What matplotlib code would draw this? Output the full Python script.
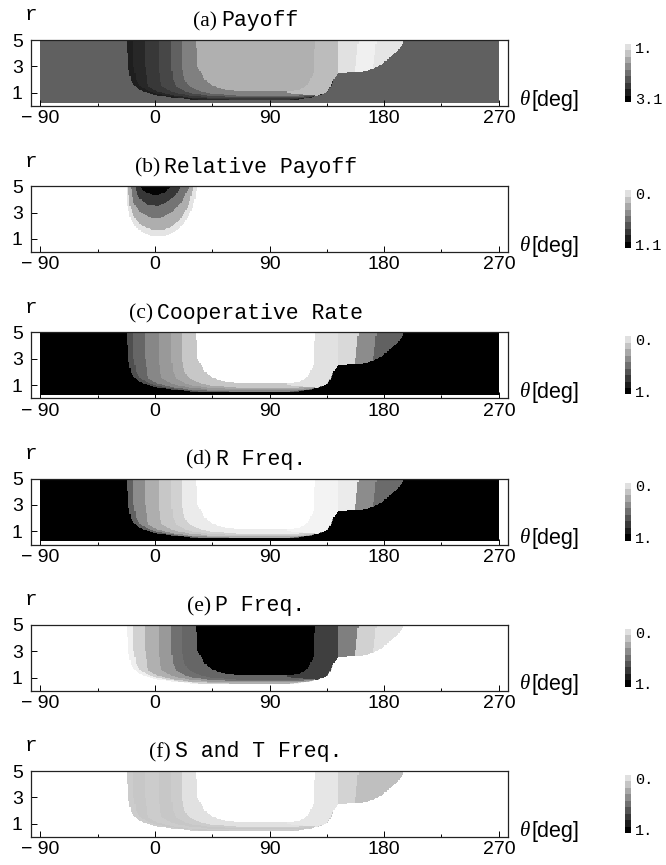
import numpy as np
import matplotlib
matplotlib.use("Agg")
import matplotlib.pyplot as plt
from matplotlib.path import Path
from matplotlib.colors import Normalize, ListedColormap
from matplotlib.cm import ScalarMappable
from matplotlib.offsetbox import TextArea, HPacker, AnnotationBbox

plt.rcParams["font.family"] = ["Liberation Sans", "DejaVu Sans"]

# grid of (theta [deg], r) cells
theta_edges = np.arange(-90, 271, 1.0)
r_edges = np.arange(0.25, 5.001, 0.05)

# nested region outlines in (theta, r); later layers are drawn over earlier ones
env_outer = [(-22, 5.1), (-21.5, 4), (-21, 3), (-19, 2), (-15.7, 1.5), (-9, 1.1), (-5, 1.0),
             (-2, 0.9), (3, 0.8), (11, 0.7), (27, 0.53), (45, 0.43), (100, 0.43), (110, 0.48),
             (122, 0.65), (132, 0.9), (136, 1.2), (138, 1.5), (140, 2.0), (144, 2.5), (157, 2.55),
             (165, 2.65), (171, 2.85), (177, 3.1), (182, 3.5), (187, 3.9), (191, 4.25),
             (194, 4.6), (196, 5.1)]
band_1 = [(-17, 5.1), (-16.5, 3), (-14.5, 2), (-11.8, 1.5), (-5, 1.15), (0, 1.0), (10, 0.8),
          (20, 0.65), (35, 0.52), (55, 0.47), (100, 0.47), (112, 0.54), (125, 0.72), (134, 1.0),
          (139, 1.6), (141, 2.2), (143, 5.1)]
band_2 = [(-8, 5.1), (-7.5, 3), (-6, 2), (-5.2, 1.5), (0, 1.2), (6.5, 1.0), (16, 0.8), (28, 0.65),
          (45, 0.55), (60, 0.52), (105, 0.52), (118, 0.62), (128, 0.8), (136, 1.1), (140, 2.0),
          (142, 5.1)]
band_3 = [(3, 5.1), (3, 3), (4, 2), (5.2, 1.5), (11, 1.2), (17, 1.0), (27, 0.83), (40, 0.68),
          (60, 0.58), (108, 0.58), (120, 0.68), (130, 0.85), (137, 1.2), (139, 2.0), (141, 5.1)]
band_4 = [(13, 5.1), (13, 3), (14.5, 2), (17, 1.5), (22, 1.2), (27.5, 1.0), (38, 0.85), (50, 0.75),
          (65, 0.68), (110, 0.68), (122, 0.76), (131, 0.95), (136, 1.3), (138, 2.0), (140, 5.1)]
band_5 = [(21, 5.1), (21, 3), (23, 2), (27.5, 1.5), (34, 1.2), (40.6, 1.0), (50, 0.9), (62, 0.83),
          (70, 0.81), (110, 0.81), (122, 0.88), (130, 1.05), (134, 1.4), (136, 2.0), (138, 5.1)]
core = [(32, 5.1), (33.5, 3), (35, 2.8), (39, 2.05), (44.5, 1.6), (51, 1.35), (59, 1.2), (66, 1.13),
        (105, 1.13), (111, 1.2), (115, 1.3), (119, 1.5), (122, 2.0), (124.5, 2.5), (125, 3.5),
        (126, 5.1)]
right_a = [(126, 5.1), (125, 3.5), (124.5, 2.5), (122, 2.0), (119, 1.5), (115, 1.3), (111, 1.2),
           (105, 1.13), (100, 1.1), (108, 0.95), (118, 0.85), (128, 0.82), (133, 0.95), (136, 1.2),
           (138, 1.5), (140, 2.0), (144, 2.5), (144, 5.1)]
right_b = [(144, 5.1), (144, 2.5), (152, 2.53), (157, 2.55), (158, 3.5), (160, 5.1)]
right_c = [(160, 5.1), (158, 3.5), (157, 2.55), (165, 2.65), (171, 2.85), (172, 3.5), (174, 5.1)]
right_d = [(174, 5.1), (172, 3.5), (171, 2.85), (177, 3.1), (182, 3.5), (187, 3.9), (191, 4.25),
           (194, 4.6), (196, 5.1)]
layers = [env_outer, band_1, band_2, band_3, band_4, band_5, core, right_a, right_b, right_c, right_d]

# relative payoff: nested lobes hanging from the top edge near theta = 0
lobe_1 = [(-22, 5.1), (-21.5, 3.5), (-19, 2.5), (-15, 1.9), (-9, 1.45), (-2, 1.2), (5, 1.18),
          (12, 1.35), (18, 1.7), (24, 2.3), (29, 3.2), (32, 4.2), (33, 5.1)]
lobe_2 = [(-21, 5.1), (-20, 3.6), (-16, 2.6), (-10, 2.0), (-2, 1.7), (5, 1.65), (12, 1.85),
          (19, 2.4), (26, 3.4), (31, 5.1)]
lobe_3 = [(-19, 5.1), (-17, 3.8), (-11, 3.0), (-3, 2.6), (5, 2.6), (13, 3.0), (21, 3.8), (28, 5.1)]
lobe_4 = [(-16, 5.1), (-13, 4.2), (-6, 3.6), (2, 3.5), (10, 3.8), (17, 4.4), (22, 5.1)]
lobe_5 = [(-12, 5.1), (-9, 4.6), (0, 4.3), (8, 4.5), (14, 5.1)]
lobes = [lobe_1, lobe_2, lobe_3, lobe_4, lobe_5]

# level per region: background first, then one value per layer
payoff = [2.31, 2.85, 2.78, 2.64, 2.51, 2.3, 2.05, 1.65, 1.55, 1.25, 1.13, 1.22]
rel_payoff = [0.0, 0.12, 0.35, 0.6, 0.86, 1.08]
coop_rate = [1.0, 0.69, 0.6, 0.47, 0.4, 0.34, 0.22, 0.0, 0.12, 0.15, 0.45, 0.62]
r_freq = [1.0, 0.62, 0.45, 0.32, 0.22, 0.18, 0.08, 0.0, 0.05, 0.08, 0.45, 0.58]
p_freq = [0.0, 0.06, 0.18, 0.31, 0.4, 0.56, 0.6, 1.0, 0.75, 0.5, 0.18, 0.12]
st_freq = [0.0, 0.2, 0.22, 0.2, 0.22, 0.2, 0.12, 0.0, 0.1, 0.17, 0.25, 0.25]

tags = ["(a)", "(b)", "(c)", "(d)", "(e)", "(f)"]
names = ["Payoff", "Relative Payoff", "Cooperative Rate", "R Freq.", "P Freq.", "S and T Freq."]
panel_levels = [payoff, rel_payoff, coop_rate, r_freq, p_freq, st_freq]
panel_shapes = [layers, lobes, layers, layers, layers, layers]
vmins = [1.0, 0.0, 0.0, 0.0, 0.0, 0.0]
vmaxs = [3.1, 1.1, 1.0, 1.0, 1.0, 1.0]
cb_top = ["1.", "0.", "0.", "0.", "0.", "0."]
cb_bottom = ["3.1", "1.1", "1.", "1.", "1.", "1."]

x_ticks = [-90, 0, 90, 180, 270]
x_ticklabels = ["\u2212 90", "0", "90", "180", "270"]
y_ticks = [1, 3, 5]

tc = (theta_edges[:-1] + theta_edges[1:]) / 2
rc = (r_edges[:-1] + r_edges[1:]) / 2
TT, RR = np.meshgrid(tc, rc)
pts = np.column_stack([TT.ravel(), RR.ravel()])


def fill_regions(shapes, levels):
    z = np.full(TT.shape, levels[0], dtype=float)
    for poly, lev in zip(shapes, levels[1:]):
        verts = list(poly) + [poly[0]]
        inside = Path(verts).contains_points(pts).reshape(TT.shape)
        z[inside] = lev
    return z


steps_cmap = ListedColormap([str(g) for g in np.linspace(0.88, 0.0, 9)])

W, H = 666, 865
AX_L, AX_W, AX_H = 31, 477, 66
fig = plt.figure(figsize=(W / 100, H / 100), dpi=100)

for i in range(6):
    top = 40 + 146.2 * i
    ax = fig.add_axes([AX_L / W, 1 - (top + AX_H) / H, AX_W / W, AX_H / H])
    z = fill_regions(panel_shapes[i], panel_levels[i])
    norm = Normalize(vmins[i], vmaxs[i])
    ax.imshow(z, origin="lower", extent=(theta_edges[0], theta_edges[-1], r_edges[0], r_edges[-1]),
              aspect="auto", cmap="gray_r", norm=norm, interpolation="nearest")
    ax.set_xlim(-97.2, 277.2)
    ax.set_ylim(0, 5)
    ax.set_xticks(x_ticks)
    ax.set_xticklabels(x_ticklabels)
    ax.set_xticks([-45, 45, 135, 225], minor=True)
    ax.set_yticks(y_ticks)
    ax.set_yticklabels([str(t) for t in y_ticks])
    ax.tick_params(which="both", direction="in", width=0.7, labelsize=14,
                   top=False, right=False)
    ax.tick_params(axis="x", pad=3)
    ax.tick_params(axis="y", pad=6)
    ax.tick_params(which="major", length=4)
    ax.tick_params(which="minor", length=2.5)
    for s in ax.spines.values():
        s.set_linewidth(0.9)
        s.set_color("#222222")

    ax.text(0.0, 1.38, "r", transform=ax.transAxes, family="Liberation Mono", size=15,
            ha="center", va="center")
    ax.text(1.025, 0.09, "\u03b8", transform=ax.transAxes, family="Liberation Serif",
            style="italic", size=15, ha="left", va="center")
    ax.text(1.049, 0.09, "[deg]", transform=ax.transAxes, family="Liberation Sans", size=15.5,
            ha="left", va="center")

    title = HPacker(children=[TextArea(tags[i], textprops=dict(family="Liberation Serif", size=15.5)),
                              TextArea(names[i], textprops=dict(family="Liberation Mono", size=15.5))],
                    align="baseline", pad=0, sep=3)
    ax.add_artist(AnnotationBbox(title, (0.451, 1.29), xycoords="axes fraction", frameon=False,
                                 box_alignment=(0.5, 0.5), annotation_clip=False))

    # stepped gray legend
    cax = fig.add_axes([625 / W, 1 - (top + 62) / H, 6 / W, 58 / H])
    cb = fig.colorbar(ScalarMappable(norm=norm, cmap=steps_cmap), cax=cax)
    cb.outline.set_visible(False)
    cax.invert_yaxis()
    step = (vmaxs[i] - vmins[i]) / 9
    cb.set_ticks([vmins[i] + step / 2, vmaxs[i] - step / 2])
    cb.set_ticklabels([cb_top[i], cb_bottom[i]])
    cax.tick_params(length=0, labelsize=11, pad=3)
    for t in cax.get_yticklabels():
        t.set_family("Liberation Mono")

fig.savefig("out.png", dpi=100)
